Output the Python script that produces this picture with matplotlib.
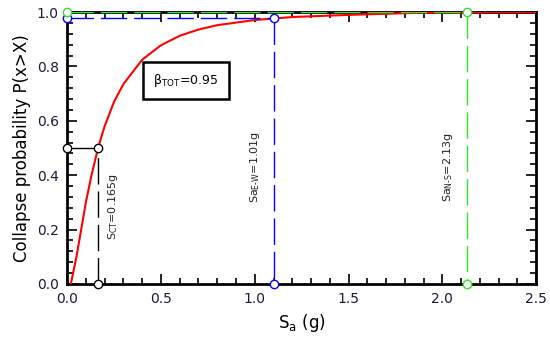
import numpy as np
import matplotlib
matplotlib.use('Agg')
from matplotlib import pyplot as plt
from matplotlib.ticker import MultipleLocator

# fragility curve
sa = [0.02, 0.05, 0.08, 0.10, 0.13, 0.165, 0.20, 0.25, 0.30, 0.40, 0.50, 0.60,
      0.70, 0.80, 1.00, 1.20, 1.50, 1.90, 2.50]
pc = [0.0, 0.10, 0.22, 0.30, 0.40, 0.50, 0.58, 0.67, 0.735, 0.825, 0.878, 0.913,
      0.936, 0.952, 0.971, 0.982, 0.990, 0.998, 1.0]

sct = 0.165
sa_ew, p_ew = 1.10, 0.98
sa_ns, p_ns = 2.13, 1.0

tick_col = '#1a1a3a'
green = '#33e033'
dash = (19, 5)

fig = plt.figure(figsize=(5.5, 3.47), dpi=100)
ax = fig.add_axes([0.122, 0.182, 0.853, 0.783])

ax.plot(sa, pc, color='red', lw=1.5, zorder=3)

mk = dict(marker='o', ms=6, mfc='white', clip_on=False, zorder=5)
# median
ax.plot([0, sct], [0.5, 0.5], color='black', lw=1.0, zorder=4)
ax.plot([sct, sct], [0, 0.5], color='black', lw=1.0, dashes=dash, zorder=4)
ax.plot([0, sct], [0.5, 0.5], ls='none', mec='black', **mk)
ax.plot([sct], [0], ls='none', mec='black', **mk)
# E-W
ax.plot([0, sa_ew], [p_ew, p_ew], color='blue', lw=1.0, dashes=dash, zorder=4)
ax.plot([sa_ew, sa_ew], [p_ew, 0], color='blue', lw=1.0, dashes=dash, zorder=4)
ax.plot([0, sa_ew, sa_ew], [p_ew, p_ew, 0], ls='none', mec='blue', **mk)
# N-S
ax.plot([0, sa_ns], [p_ns, p_ns], color=green, lw=1.0, dashes=dash, zorder=4)
ax.plot([sa_ns, sa_ns], [p_ns, 0], color=green, lw=1.0, dashes=dash, zorder=4)
ax.plot([0, sa_ns, sa_ns], [p_ns, p_ns, 0], ls='none', mec=green, **mk)

ax.text(0.245, 0.285, r'$\mathregular{S_{CT}}$=0.165g', rotation=90, fontsize=8,
        ha='center', va='center', color='#222222')
ax.text(1.0, 0.43, r'$\mathregular{Sa_{E\text{-}W}}$=1.01g', rotation=90, fontsize=8,
        ha='center', va='center', color='#222222')
ax.text(2.03, 0.43, r'$\mathregular{Sa_{N\text{-}S}}$=2.13g', rotation=90, fontsize=8,
        ha='center', va='center', color='#222222')
ax.text(0.634, 0.75, r'$\mathregular{\beta_{TOT}}$=0.95', fontsize=9,
        ha='center', va='center',
        bbox=dict(boxstyle='square,pad=0.8', fc='white', ec='black', lw=1.8))

ax.set_xlim(0, 2.5)
ax.set_ylim(0, 1.0)
ax.xaxis.set_major_locator(MultipleLocator(0.5))
ax.xaxis.set_minor_locator(MultipleLocator(0.1))
ax.yaxis.set_major_locator(MultipleLocator(0.2))
ax.yaxis.set_minor_locator(MultipleLocator(0.04))
ax.tick_params(which='both', direction='in', top=True, right=True, width=1.2,
               labelsize=10, labelcolor=tick_col, pad=6)
ax.tick_params(which='major', length=7)
ax.tick_params(which='minor', length=4)
for s in ax.spines.values():
    s.set_linewidth(2)

ax.set_xlabel(r'$\mathregular{S_a}$ (g)', fontsize=12)
ax.set_ylabel('Collapse probability P(x>X)', fontsize=12)

fig.savefig('out.png', dpi=100)
